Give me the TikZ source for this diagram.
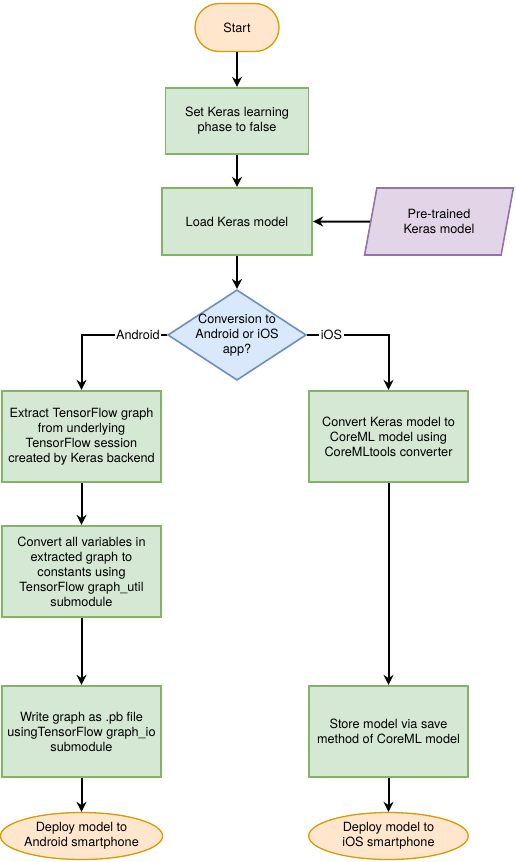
\documentclass[tikz,border=0pt]{standalone}
\usepackage{fontspec}
\setmainfont{TeX Gyre Heros}
\usetikzlibrary{shapes.geometric,arrows.meta}

\definecolor{stepfill}{HTML}{D5E8D4}
\definecolor{stepline}{HTML}{82B366}
\definecolor{termfill}{HTML}{FFE6CC}
\definecolor{termline}{HTML}{D79B00}
\definecolor{datafill}{HTML}{E1D5E7}
\definecolor{dataline}{HTML}{9673A6}
\definecolor{askfill}{HTML}{DAE8FC}
\definecolor{askline}{HTML}{6C8EBF}

\begin{document}
\begin{tikzpicture}[x=1pt, y=-1pt,
	every node/.style={font=\fontsize{12.7}{15}\selectfont, align=center},
	stepbox/.style={draw=stepline, fill=stepfill, line width=1.8pt, inner sep=0, minimum width=159.5, minimum height=91.5},
	termbox/.style={draw=termline, fill=termfill, line width=1.3pt, inner sep=0},
	databox/.style={draw=dataline, fill=datafill, line width=1.6pt, inner sep=0, trapezium, trapezium left angle=74, trapezium right angle=106, trapezium stretches=true, minimum width=150, minimum height=67},
	askbox/.style={draw=askline, fill=askfill, line width=1.6pt, inner sep=0, diamond, minimum width=138.5, minimum height=90.5},
	arrow/.style={line width=2pt, -{Stealth[length=10pt,width=10pt]}}]

\useasboundingbox (0,0) rectangle (516,862);

\node[termbox, rounded corners=24, minimum width=84, minimum height=48] (start) at (237,27.5) {Start};
\node[stepbox, minimum width=143, minimum height=66.5] (phase) at (237,121) {Set Keras learning\\phase to false};
\node[stepbox, minimum width=150.5, minimum height=67.5] (load) at (237,221.5) {Load Keras model};
\node[databox] (pretrained) at (439,221.5) {Pre-trained\\Keras model};
\node[askbox, label={[align=center]center:Conversion to\\Android or iOS\\app?}] (target) at (237,335) {};

\node[stepbox] (extract) at (81.5,436.5) {Extract TensorFlow graph\\from underlying\\TensorFlow session\\created by Keras backend};
\node[stepbox] (freeze) at (81.5,571.5) {Convert all variables in\\extracted graph to\\constants using\\TensorFlow graph\_util\\submodule};
\node[stepbox] (writepb) at (81.5,731.5) {Write graph as .pb file\\usingTensorFlow graph\_io\\submodule};
\node[termbox, ellipse, minimum width=159.5, minimum height=47] (android) at (81.5,836) {Deploy model to\\Android smartphone};

\node[stepbox] (coreml) at (388.5,436.5) {Convert Keras model to\\CoreML model using\\CoreMLtools converter};
\node[stepbox] (save) at (388.5,731.5) {Store model via save\\method of CoreML model};
\node[termbox, ellipse, minimum width=159.5, minimum height=47] (ios) at (388.5,836) {Deploy model to\\iOS smartphone};

\foreach \a/\b in {start/phase, phase/load, load/target, extract/freeze, freeze/writepb, writepb/android, coreml/save, save/ios}{
	\draw[arrow] (\a) -- (\b);
}
\draw[arrow] (pretrained) -- (load);
\draw[arrow] (target.west) -| (extract.north) node[pos=0.17, fill=white, inner sep=1.5pt] {Android};
\draw[arrow] (target.east) -| (coreml.north) node[pos=0.15, fill=white, inner sep=1.5pt] {iOS};

\end{tikzpicture}
\end{document}
